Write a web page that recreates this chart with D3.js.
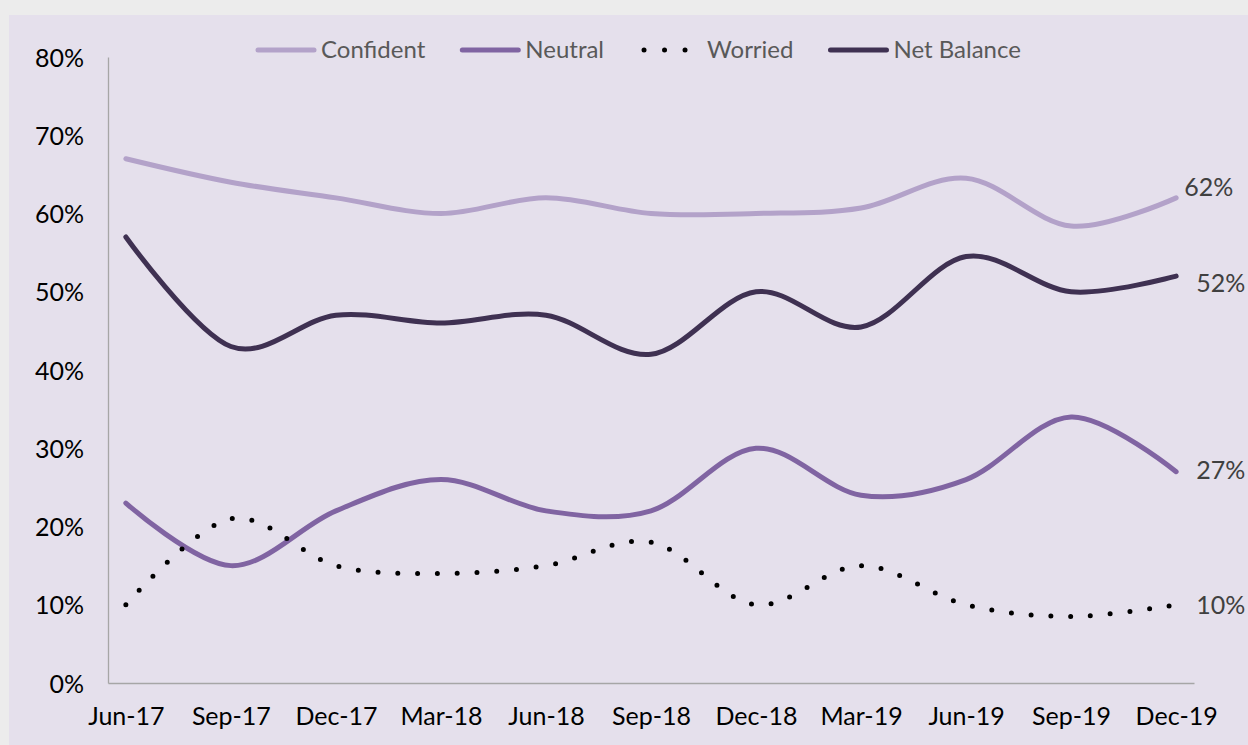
<!DOCTYPE html>
<html>
<head>
<meta charset="utf-8">
<script src="https://cdn.jsdelivr.net/npm/d3@7"></script>
<style>
    html, body { margin: 0; padding: 0; background: #ececec; }
    svg { display: block; font-family: Lato, "Open Sans", sans-serif; }
</style>
</head>
<body>
<svg id="chart"></svg>
<script>
let categories = ["Jun-17", "Sep-17", "Dec-17", "Mar-18", "Jun-18", "Sep-18", "Dec-18", "Mar-19", "Jun-19", "Sep-19", "Dec-19"];

let confident  = [67, 64, 62, 60, 62, 60, 60, 60.7, 64.5, 58.4, 62];
let neutral    = [23, 15, 22, 26, 22, 22, 30, 24, 26, 34, 27];
let worried    = [10, 21, 15, 14, 15, 18, 10, 15, 10, 8.5, 10];
let netBalance = [57, 43, 47, 46, 47, 42, 50, 45.5, 54.5, 50, 52];

let seriesNames = ["Confident", "Neutral", "Worried", "Net Balance"];
let yTicks = [0, 10, 20, 30, 40, 50, 60, 70, 80];

window.onload = () =>
{
    let width = 1248;
    let height = 745;

    let series = [
        {name: seriesNames[0], values: confident, color: "#b3a2c9", dotted: false, label: {dx: 8, dy: -11}},
        {name: seriesNames[1], values: neutral, color: "#8064a2", dotted: false, label: {dx: 20, dy: -1}},
        {name: seriesNames[2], values: worried, color: "#000000", dotted: true, label: {dx: 20, dy: 0}},
        {name: seriesNames[3], values: netBalance, color: "#3f3152", dotted: false, label: {dx: 20, dy: 7}}
    ];

    let svg = d3.select("#chart")
        .attr("width", width)
        .attr("height", height);

    // chart panel
    svg.append("rect")
        .attr("x", 9)
        .attr("y", 15)
        .attr("width", width - 9)
        .attr("height", height - 15)
        .attr("fill", "#e5e0ec");

    let x = d3.scalePoint().domain(categories).range([108, 1194]).padding(0.17);
    let y = d3.scaleLinear().domain([0, 80]).range([683, 57]);

    // y axis
    let yAxis = svg.append("g")
        .attr("transform", "translate(108,0)")
        .call(d3.axisLeft(y).tickValues(yTicks).tickSize(0).tickPadding(24).tickFormat(d => d + "%"));
    yAxis.attr("font-family", null).attr("font-size", null);
    yAxis.select(".domain").attr("stroke", "#a6a6a6").attr("stroke-width", 1.3);
    yAxis.selectAll("text")
        .attr("fill", "#000")
        .style("font-size", "25px")
        .attr("dy", "0.36em");

    // x axis
    let xAxis = svg.append("g")
        .attr("transform", `translate(0,${y(0)})`)
        .call(d3.axisBottom(x).tickSize(0).tickPadding(24));
    xAxis.attr("font-family", null).attr("font-size", null);
    xAxis.select(".domain").attr("stroke", "#a6a6a6").attr("stroke-width", 1.3);
    xAxis.selectAll("text")
        .attr("fill", "#000")
        .style("font-size", "25px");

    let line = d3.line()
        .x((d, i) => x(categories[i]))
        .y(d => y(d))
        .curve(d3.curveCatmullRom.alpha(0));

    let lines = svg.append("g");
    for (let s of series)
    {
        let path = lines.append("path")
            .attr("d", line(s.values))
            .attr("fill", "none")
            .attr("stroke", s.color)
            .attr("stroke-width", 5)
            .attr("stroke-linecap", "round")
            .attr("stroke-linejoin", "round");
        if (s.dotted)
        {
            path.attr("stroke-dasharray", "0 19.8");
        }
    }

    // end labels
    svg.append("g")
        .selectAll("text")
        .data(series)
        .join("text")
        .attr("x", s => x(categories[categories.length - 1]) + s.label.dx)
        .attr("y", s => y(s.values[s.values.length - 1]) + s.label.dy)
        .attr("dy", "0.35em")
        .attr("fill", "#404040")
        .style("font-size", "25px")
        .text(s => d3.format(".0f")(s.values[s.values.length - 1]) + "%");

    legend(svg, series);

    function legend(svg, series)
    {
        let g = svg.append("g").attr("transform", "translate(255,50)");
        let offset = 0;
        for (let s of series)
        {
            let item = g.append("g").attr("transform", `translate(${offset},0)`);
            let swatch = item.append("line")
                .attr("x1", s.dotted ? 6 : 3)
                .attr("x2", s.dotted ? 48 : 59)
                .attr("stroke", s.color)
                .attr("stroke-width", 5)
                .attr("stroke-linecap", "round");
            if (s.dotted)
            {
                swatch.attr("stroke-dasharray", "0 20.5");
            }
            let text = item.append("text")
                .attr("x", s.dotted ? 69 : 66)
                .attr("dy", "0.35em")
                .attr("fill", "#595959")
                .style("font-size", "24px")
                .text(s.name);
            offset += (s.dotted ? 69 : 66) + text.node().getComputedTextLength() + 34;
        }
    }
};
</script>
</body>
</html>
